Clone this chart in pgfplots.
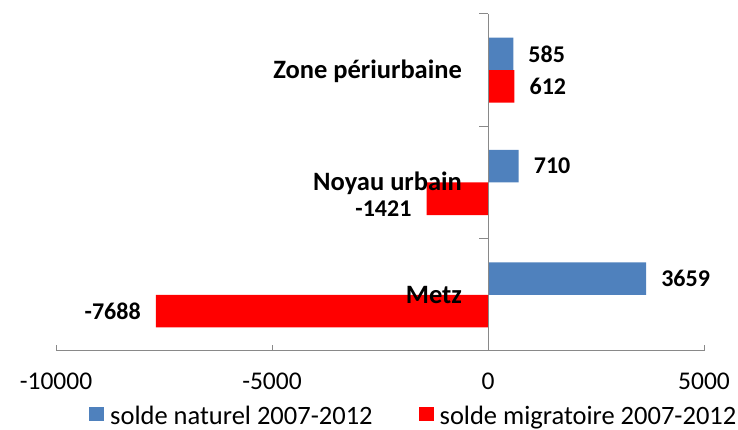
\documentclass[border=0pt]{standalone}
\usepackage{fontspec}
\setmainfont{Carlito}
\usepackage{pgfplots}
\pgfplotsset{compat=1.18}
\definecolor{bblue}{HTML}{4F81BD}
\definecolor{bred}{HTML}{FF0000}
\definecolor{axgray}{HTML}{898989}
\begin{document}
\begin{tikzpicture}
\begin{axis}[
  name=ax,
  scale only axis, width=648pt, height=337pt,
  xmin=-10000, xmax=5000, ymin=-0.5, ymax=2.5,
  axis x line=bottom, axis y line=none,
  axis line style={axgray, line width=1pt, -},
  x axis line style={-},
  xtick={-10000,-5000,0,5000},
  scaled x ticks=false,
  tick align=inside,
  major tick length=6pt,
  x tick style={axgray, line width=1pt},
  ytick=\empty,
  /pgf/number format/assume math mode=true,
  /pgf/number format/1000 sep={},
  xticklabel style={font=\fontsize{25.5}{30}\selectfont, inner sep=0pt, yshift=-22pt},
  xbar, bar width=0.29,
  clip=false,
  nodes near coords,
  nodes near coords align={horizontal},
  every node near coord/.append style={font=\bfseries\fontsize{24}{28}\selectfont, inner xsep=15pt, inner ysep=0pt, black},
  legend columns=2,
  legend cell align=left,
  legend image code/.code={\fill[#1] (0pt,-5pt) rectangle (15pt,9pt);},
  legend style={at={(0.051,-0.193)}, anchor=west, draw=none, fill=none, inner sep=0pt,
    font=\fontsize{26.5}{30}\selectfont,
    nodes={inner sep=0pt},
    /tikz/every odd column/.append style={column sep=6pt},
    /tikz/every even column/.append style={column sep=46pt}},
]
\addplot[fill=bblue, draw=none, bar shift=0.145] coordinates {(3659,0) (710,1) (585,2)};
\addlegendentry{solde naturel 2007-2012}
\addplot[fill=bred, draw=none, bar shift=-0.145,
  visualization depends on={value \coordindex \as \ci},
  every node near coord/.append style={yshift={-10*(\ci==1)}}] coordinates {(-7688,0) (-1421,1) (612,2)};
\addlegendentry{solde migratoire 2007-2012}
\draw[axgray, line width=1pt] (axis cs:0,-0.5) -- (axis cs:0,2.5);
\draw[axgray, line width=1pt] (axis cs:0,2.5) -- ([xshift=-9pt]axis cs:0,2.5);
\draw[axgray, line width=1pt] (axis cs:0,1.5) -- ([xshift=-9pt]axis cs:0,1.5);
\draw[axgray, line width=1pt] (axis cs:0,0.5) -- ([xshift=-9pt]axis cs:0,0.5);
\node[anchor=base east, font=\bfseries\fontsize{26.5}{30}\selectfont, yshift=-8.5pt, inner sep=0pt] at (axis cs:-600,2) {Zone périurbaine};
\node[anchor=base east, font=\bfseries\fontsize{26.5}{30}\selectfont, yshift=-8.5pt, inner sep=0pt] at (axis cs:-600,1) {Noyau urbain};
\node[anchor=base east, font=\bfseries\fontsize{26.5}{30}\selectfont, yshift=-8.5pt, inner sep=0pt] at (axis cs:-600,0) {Metz};
\end{axis}
\pgfresetboundingbox
\path ([shift={(-56pt,-79pt)}]ax.south west) rectangle ([shift={(34pt,14pt)}]ax.north east);
\end{tikzpicture}
\end{document}
